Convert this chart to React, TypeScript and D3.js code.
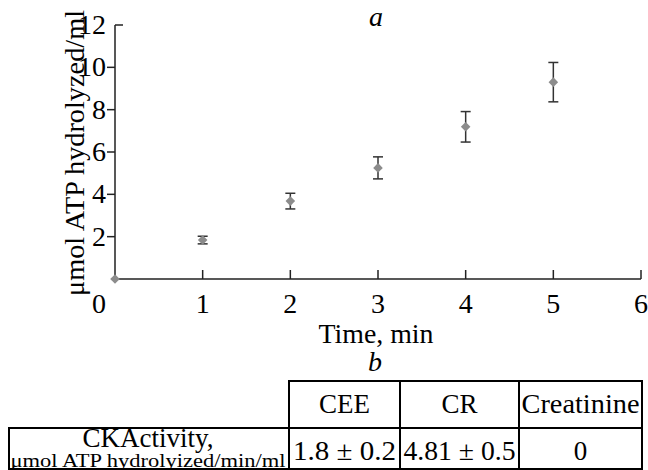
import React from 'react';
import * as d3 from 'd3';

// panel a: CK activity over time
const times = [0, 1, 2, 3, 4, 5];
const means = [0, 1.84, 3.68, 5.25, 7.19, 9.3];
const errors = [0, 0.18, 0.37, 0.52, 0.72, 0.93];
const xTicks = [1, 2, 3, 4, 5, 6];
const yTicks = [2, 4, 6, 8, 10, 12];

// panel b: table
const columns = ['CEE', 'CR', 'Creatinine'];
const cellValues = ['1.8 ± 0.2', '4.81 ± 0.5', '0'];
const rowTitle = 'CKActivity,';
const rowUnit = 'μmol ATP hydrolyized/min/ml';

const FONT = '"Liberation Serif", "Times New Roman", serif';
const W = 648;
const H = 470;

export default function App() {
    const x = d3.scaleLinear([0, 6], [115, 641]);
    const y = d3.scaleLinear([0, 12], [279, 25]);

    // square turned 45deg, looks like the excel diamond
    const diamond = d3.symbol(d3.symbolSquare, 46)();

    // table column edges
    const colEdges = [9, 289, 400, 519, 642];
    const headTop = 381;
    const rowTop = 428;
    const rowBottom = 469;

    return (
        <svg
            width={W}
            height={H}
            style={{ position: 'absolute', left: 0, top: 0, background: '#fff' }}
            fontFamily={FONT}
        >
            <text x={376} y={26} fontSize={28} fontStyle="italic" textAnchor="middle">a</text>

            {/* axes */}
            <g stroke="#222" strokeWidth="1.5" fill="none">
                <path d={`M${x(0)},${y(12)}V${y(0)}H${x(6)}`} />
                <line x1={x(0)} x2={x(0) + 8} y1={y(12)} y2={y(12)} />
                {yTicks.slice(0, -1).map((t) => (
                    <line key={t} x1={x(0) - 8} x2={x(0)} y1={y(t)} y2={y(t)} />
                ))}
                {xTicks.map((t) => (
                    <line key={t} x1={x(t)} x2={x(t)} y1={y(0)} y2={y(0) - 9} />
                ))}
            </g>

            <g fontSize={28} fill="#000">
                {yTicks.map((t) => (
                    <text key={t} x={106} y={y(t) + 9} textAnchor="end">{t}</text>
                ))}
                <text x={99} y={313} textAnchor="middle">0</text>
                {xTicks.map((t) => (
                    <text key={t} x={x(t)} y={313} textAnchor="middle">{t}</text>
                ))}
                <text x={376} y={343} textAnchor="middle" textLength={115} lengthAdjust="spacingAndGlyphs">Time, min</text>
                <text
                    transform={`translate(84,${(10 + 296) / 2}) rotate(-90)`}
                    textAnchor="middle"
                    textLength={286}
                    lengthAdjust="spacingAndGlyphs"
                >
                    μmol ATP hydrolyzed/ml
                </text>
            </g>

            {/* error bars */}
            <g stroke="#333" strokeWidth="1.5">
                {times.map((t, i) =>
                    errors[i] > 0 ? (
                        <g key={i}>
                            <line x1={x(t)} x2={x(t)} y1={y(means[i] - errors[i])} y2={y(means[i] + errors[i])} />
                            <line x1={x(t) - 5} x2={x(t) + 5} y1={y(means[i] - errors[i])} y2={y(means[i] - errors[i])} />
                            <line x1={x(t) - 5} x2={x(t) + 5} y1={y(means[i] + errors[i])} y2={y(means[i] + errors[i])} />
                        </g>
                    ) : null,
                )}
            </g>
            <g fill="#8c8c8c">
                {times.map((t, i) => (
                    <path key={i} d={diamond} transform={`translate(${x(t)},${y(means[i])}) rotate(45)`} />
                ))}
            </g>

            {/* panel b */}
            <text x={375} y={371} fontSize={28} fontStyle="italic" textAnchor="middle">b</text>
            <g stroke="#000" strokeWidth="2" fill="none">
                <rect x={colEdges[1]} y={headTop} width={colEdges[4] - colEdges[1]} height={rowTop - headTop} />
                <rect x={colEdges[0]} y={rowTop} width={colEdges[4] - colEdges[0]} height={rowBottom - rowTop} />
                {colEdges.slice(1, 4).map((e, i) => (
                    <line key={i} x1={e} x2={e} y1={headTop} y2={rowBottom} />
                ))}
            </g>
            <g fontSize={27} fill="#000" textAnchor="middle">
                {columns.map((c, i) => (
                    <text key={c} x={(colEdges[i + 1] + colEdges[i + 2]) / 2} y={413}
                        textLength={c === 'Creatinine' ? 118 : undefined}
                        lengthAdjust="spacingAndGlyphs">{c}</text>
                ))}
                {cellValues.map((v, i) => (
                    <text key={i} x={(colEdges[i + 1] + colEdges[i + 2]) / 2} y={460}
                        textLength={i < 2 ? [103, 112][i] : undefined}
                        lengthAdjust="spacingAndGlyphs">{v}</text>
                ))}
                <text x={148} y={447} textLength={131} lengthAdjust="spacingAndGlyphs">{rowTitle}</text>
                <text x={148} y={467} fontSize={18} textLength={275} lengthAdjust="spacingAndGlyphs">{rowUnit}</text>
            </g>
        </svg>
    );
}
